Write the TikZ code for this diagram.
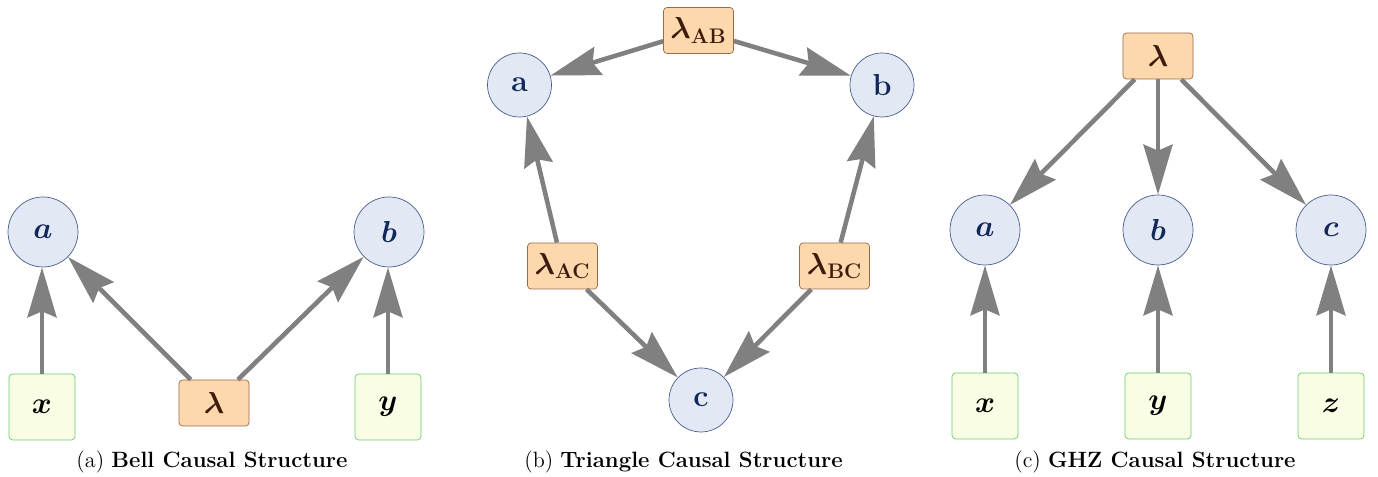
\documentclass[tikz,border=0pt]{standalone}
\usepackage{amsmath,bm}
\usetikzlibrary{arrows.meta}
\definecolor{obsfill}{HTML}{E2E8F4}
\definecolor{obsline}{HTML}{4A5E8C}
\definecolor{obstext}{HTML}{12285A}
\definecolor{srcfill}{HTML}{FDD8AC}
\definecolor{srcline}{HTML}{9B6A4B}
\definecolor{srctext}{HTML}{3D1C0E}
\definecolor{inpfill}{HTML}{F8FDE3}
\definecolor{inpline}{HTML}{6CCF6C}
\begin{document}
\begin{tikzpicture}[
  outnode/.style={circle, draw=obsline, fill=obsfill, text=obstext, minimum size=1.4cm, inner sep=0pt, font=\LARGE},
  srcnode/.style={rectangle, rounded corners=2pt, draw=srcline, fill=srcfill, text=srctext, minimum width=1.4cm, minimum height=0.92cm, inner sep=0pt, font=\LARGE},
  inpnode/.style={rectangle, rounded corners=2pt, draw=inpline, fill=inpfill, minimum size=1.32cm, inner sep=0pt, font=\LARGE},
  link/.style={draw=gray, line width=2.6pt, -{Stealth[length=1.0cm, width=0.58cm, inset=0.12cm]}},
  caption/.style={anchor=base, font=\fontsize{12.6}{15}\selectfont}
]
\useasboundingbox (0,0) rectangle (27.56,9.54);

% (a) Bell
\node[outnode] (a1) at (0.86,4.90) {$\bm{a}$};
\node[outnode] (b1) at (7.78,4.90) {$\bm{b}$};
\node[inpnode] (x1) at (0.84,1.40) {$\bm{x}$};
\node[inpnode] (y1) at (7.76,1.40) {$\bm{y}$};
\node[srcnode] (l1) at (4.28,1.48) {$\bm{\lambda}$};
\draw[link] (x1) -- (x1 |- a1.south);
\draw[link] (y1) -- (y1 |- b1.south);
\draw[link] (l1) -- (a1);
\draw[link] (l1) -- (b1);
\node[caption] (capa) at (4.24,0.18) {(a)~\textbf{Bell Causal Structure}};

% (b) Triangle
\node[outnode, minimum size=1.28cm] (a2) at (10.39,7.84) {$\mathbf{a}$};
\node[outnode, minimum size=1.28cm] (b2) at (17.64,7.84) {$\mathbf{b}$};
\node[outnode, minimum size=1.28cm] (c2) at (14.02,1.54) {$\mathbf{c}$};
\node[srcnode] (lab) at (13.97,8.93) {$\bm{\lambda}_{\mathbf{AB}}$};
\node[srcnode] (lac) at (11.25,4.22) {$\bm{\lambda}_{\mathbf{AC}}$};
\node[srcnode] (lbc) at (16.69,4.22) {$\bm{\lambda}_{\mathbf{BC}}$};
\draw[link] (lab) -- (a2);
\draw[link] (lab) -- (b2);
\draw[link] (lac) -- (a2);
\draw[link] (lac) -- (c2);
\draw[link] (lbc) -- (b2);
\draw[link] (lbc) -- (c2);
\node[caption] (capb) at (13.67,0.18) {(b)~\textbf{Triangle Causal Structure}};

% (c) GHZ
\node[srcnode] (l3) at (23.16,8.42) {$\bm{\lambda}$};
\node[outnode] (a3) at (19.70,4.94) {$\bm{a}$};
\node[outnode] (b3) at (23.16,4.94) {$\bm{b}$};
\node[outnode] (c3) at (26.62,4.94) {$\bm{c}$};
\node[inpnode] (x3) at (19.70,1.42) {$\bm{x}$};
\node[inpnode] (y3) at (23.16,1.42) {$\bm{y}$};
\node[inpnode] (z3) at (26.62,1.42) {$\bm{z}$};
\draw[link] (l3) -- (a3);
\draw[link] (l3) -- (b3);
\draw[link] (l3) -- (c3);
\draw[link] (x3) -- (a3);
\draw[link] (y3) -- (b3);
\draw[link] (z3) -- (c3);
\node[caption] (capc) at (23.10,0.18) {(c)~\textbf{GHZ Causal Structure}};
\end{tikzpicture}
\end{document}
